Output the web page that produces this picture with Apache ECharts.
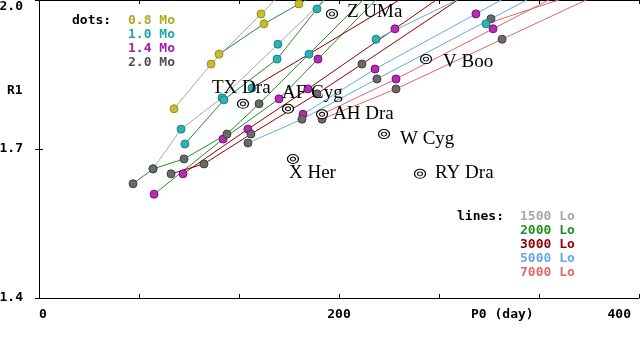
<!DOCTYPE html>
<html><head><meta charset="utf-8">
<script src="https://cdn.jsdelivr.net/npm/echarts@6/dist/echarts.min.js"></script>
<style>html,body{margin:0;padding:0;background:#fff}#c{width:640px;height:350px}</style>
</head><body><div id="c"></div>
<script>
// ---- axis ticks / labels ----
const xMin = 0, xMax = 400, xTickStep = 400 / 6;
const xLabelValues = [0, 200, 400];
const yMin = 1.4, yMax = 2.0, yTickStep = 0.3;
const xTitle = 'P0 (day)';
const yTitle = 'R1';

// ---- legend texts ----
const massLabels = ['0.8 Mo', '1.0 Mo', '1.4 Mo', '2.0 Mo'];
const lumLabels = ['1500 Lo', '2000 Lo', '3000 Lo', '5000 Lo', '7000 Lo'];

// ---- model tracks: [P0, R1] dots (one array per luminosity / mass) ----
const L1500_M08 = [[90.0,1.781],[114.7,1.871],[148.0,1.972]];
const L1500_M10 = [[76.0,1.660],[94.7,1.740],[122.0,1.803],[159.3,1.911]];
const L2000_M08 = [[120.0,1.891],[150.0,1.952],[173.3,1.992]];
const L2000_M10 = [[97.3,1.710],[123.3,1.799],[158.7,1.881],[185.3,1.982]];
const L2000_M14 = [[76.7,1.609],[122.7,1.720],[160.0,1.801],[186.0,1.881]];
const L2000_M20 = [[62.7,1.630],[76.0,1.660],[96.7,1.680],[125.3,1.730],[146.7,1.791]];
const L3000_M10 = [[142.0,1.823],[180.0,1.891]];
const L3000_M14 = [[96.0,1.650],[139.3,1.740],[179.3,1.821],[237.3,1.942]];
const L3000_M20 = [[88.0,1.650],[110.0,1.670],[141.3,1.730],[185.3,1.811],[215.3,1.871]];
const L5000_M10 = [[224.7,1.921]];
const L5000_M14 = [[176.0,1.770],[224.0,1.861],[291.3,1.972]];
const L5000_M20 = [[139.3,1.712],[175.3,1.760],[225.3,1.841],[301.3,1.962]];
const L7000_M10 = [[298.0,1.952]];
const L7000_M14 = [[188.7,1.770],[238.0,1.841],[302.7,1.942]];
const L7000_M20 = [[188.7,1.760],[238.0,1.821],[308.7,1.921]];

// where each track line continues beyond the plot top
const trackEnds = [
  [167.0,2.03],[200.0,2.03],[195.0,2.03],[198.0,2.03],[234.0,2.03],[226.0,2.03],
  [256.7,2.03],[279.0,2.03],[294.0,2.03],[299.0,2.03],[326.0,2.03],[344.0,2.03],
  [376.7,2.03],[359.0,2.03],[386.0,2.03]
];
// [luminosity index, mass index, dots]
const tracks = [
  [0,0,L1500_M08],[0,1,L1500_M10],
  [1,0,L2000_M08],[1,1,L2000_M10],[1,2,L2000_M14],[1,3,L2000_M20],
  [2,1,L3000_M10],[2,2,L3000_M14],[2,3,L3000_M20],
  [3,1,L5000_M10],[3,2,L5000_M14],[3,3,L5000_M20],
  [4,1,L7000_M10],[4,2,L7000_M14],[4,3,L7000_M20]
];

// ---- observed stars ----
const starNames = ['TX Dra','AF Cyg','Z UMa','V Boo','AH Dra','W Cyg','X Her','RY Dra'];
const starP0 = [136.0,166.0,195.3,258.0,188.7,230.0,169.3,254.0];
const starR1 = [1.791,1.781,1.972,1.881,1.770,1.730,1.680,1.650];

// ---- styles ----
const massText = ['#b0a820','#20a8a8','#a020a8','#505050'];
const massFill = ['#c4bc38','#30b0b0','#b030b0','#6a6a6a'];
const massEdge = ['#9a9210','#108a8a','#800880','#404040'];
const lumColors = ['#a8a8a8','#209020','#900000','#68a8e8','#e06868'];
const starLabelOffsets = [[-31,-16],[-6,-16],[15,-2],[17,3],[11,0],[16,5],[-4,14],[15,-1]];
const monoFont = 'DejaVu Sans Mono';
const serifFont = 'Liberation Serif';

const series = [];
tracks.forEach((t, i) => {
  const [li, mi, dots] = t;
  series.push({
    type: 'line', data: dots.concat([trackEnds[i]]), showSymbol: false, silent: true,
    clip: true, z: 2, animation: false,
    lineStyle: { color: lumColors[li], width: 1 }
  });
});
tracks.forEach((t) => {
  const [li, mi, dots] = t;
  series.push({
    type: 'scatter', data: dots, symbol: 'circle', symbolSize: 8, silent: true,
    clip: true, z: 3, animation: false,
    itemStyle: { color: massFill[mi], borderColor: massEdge[mi], borderWidth: 1, opacity: 1 }
  });
});
const starData = starNames.map((n, i) => ({
  value: [starP0[i], starR1[i]], name: n,
  label: { offset: starLabelOffsets[i] }
}));
series.push({
  type: 'scatter', data: starData, symbol: 'circle', symbolSize: [11, 9], silent: true,
  z: 5, animation: false,
  itemStyle: { color: '#fff', borderColor: '#000', borderWidth: 1.1, opacity: 1 },
  label: {
    show: true, position: 'inside', align: 'left', verticalAlign: 'middle',
    formatter: p => p.name, fontFamily: serifFont, fontSize: 19, color: '#000'
  }
});
series.push({
  type: 'scatter', data: starData.map(d => d.value), symbol: 'circle', symbolSize: [5, 4], silent: true,
  z: 6, animation: false,
  itemStyle: { color: '#fff', borderColor: '#000', borderWidth: 1, opacity: 1 }
});

const graphics = [];
const txt = (x, y, s, c) => ({
  type: 'text', left: x, top: y - 7, silent: true,
  style: { text: s, fill: c, font: 'bold 13px "' + monoFont + '"' }
});
graphics.push(txt(72, 21, 'dots:', '#000'));
massLabels.forEach((s, i) => graphics.push(txt(128, 21 + 14 * i, s, massText[i])));
graphics.push(txt(457, 217, 'lines:', '#000'));
lumLabels.forEach((s, i) => graphics.push(txt(520, 217 + 14 * i, s, lumColors[i])));
graphics.push(txt(7, 91, yTitle, '#000'));
graphics.push(txt(471, 315, xTitle, '#000'));

const axisFont = { fontFamily: monoFont, fontWeight: 'bold', fontSize: 13, color: '#000' };
const xBase = {
  type: 'value', min: xMin, max: xMax, interval: xTickStep,
  axisLine: { show: true, lineStyle: { color: '#000', width: 1 } },
  axisTick: { show: true, inside: true, length: 4, lineStyle: { color: '#000' } },
  splitLine: { show: false }
};
const yBase = {
  type: 'value', min: yMin, max: yMax, interval: yTickStep,
  axisLine: { show: true, lineStyle: { color: '#000', width: 1 } },
  axisTick: { show: true, inside: true, length: 4, lineStyle: { color: '#000' } },
  splitLine: { show: false }
};

const option = {
  animation: false,
  backgroundColor: '#fff',
  grid: { left: 39, right: 1, top: 0, bottom: 52, containLabel: false, outerBoundsMode: 'none' },
  xAxis: [
    Object.assign({}, xBase, {
      position: 'bottom',
      axisLabel: Object.assign({}, axisFont, {
        margin: 10, showMinLabel: true, showMaxLabel: true,
        alignMinLabel: 'left', alignMaxLabel: 'right',
        formatter: v => {
          const r = Math.round(v);
          if (Math.abs(v - r) > 1e-6 || xLabelValues.indexOf(r) < 0) return '';
          return r === xMax ? '{r|' + r + '}' : String(r);
        },
        rich: { r: Object.assign({}, axisFont, { padding: [0, 8, 0, 0] }) }
      })
    }),
    Object.assign({}, xBase, { position: 'top', axisLabel: { show: false } })
  ],
  yAxis: [
    Object.assign({}, yBase, {
      position: 'left',
      axisLabel: Object.assign({}, axisFont, {
        margin: 16, showMinLabel: true, showMaxLabel: true,
        verticalAlignMaxLabel: 'top',
        formatter: v => v.toFixed(1)
      })
    }),
    Object.assign({}, yBase, { position: 'right', axisLabel: { show: false } })
  ],
  graphic: graphics,
  series: series
};
const chart = echarts.init(document.getElementById('c'), null, { renderer: 'canvas' });
chart.setOption(option);
</script></body></html>
